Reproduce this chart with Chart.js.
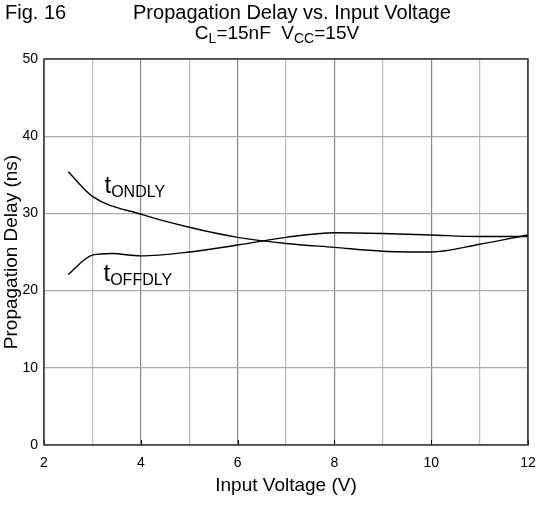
<!DOCTYPE html>
<html>
<head>
<meta charset="utf-8">
<script src="https://cdn.jsdelivr.net/npm/chart.js@4.4.0/dist/chart.umd.min.js"></script>
<style>
  html, body { margin: 0; padding: 0; background: #fff; }
  #wrap { width: 552px; height: 506px; position: relative; }
</style>
</head>
<body>
<div id="wrap"><canvas id="delayChart"></canvas></div>
<script>
const FONT = "'Liberation Sans', Arial, sans-serif";

// input voltage (V) / propagation delay (ns)
const onVoltage = [2.5, 3, 4, 5, 6, 7, 8, 9, 10, 11, 12];
const onDelay = [35.4, 32.2, 29.9, 28.2, 26.9, 26.1, 25.6, 25.1, 25.0, 26.0, 27.2];
const offVoltage = [2.5, 3, 3.4, 4, 5, 6, 7, 8, 9, 10, 11, 12];
const offDelay = [22.1, 24.6, 24.8, 24.5, 25.0, 25.9, 26.9, 27.5, 27.4, 27.2, 27.0, 27.0];

const xTicks = [2, 4, 6, 8, 10, 12];
const yTicks = [0, 10, 20, 30, 40, 50];

function toPoints(xs, ys) {
  return xs.map((x, i) => ({ x: x, y: ys[i] }));
}

// text with subscripts, parts = [[text, isSub], ...]
function subText(ctx, parts, x, y, size, subSize, drop, center) {
  let total = 0;
  parts.forEach(([t, sub]) => {
    ctx.font = `${sub ? subSize : size}px ${FONT}`;
    total += ctx.measureText(t).width;
  });
  if (center) x -= total / 2;
  parts.forEach(([t, sub]) => {
    ctx.font = `${sub ? subSize : size}px ${FONT}`;
    ctx.fillText(t, x, sub ? y + drop : y);
    x += ctx.measureText(t).width;
  });
}

const decorPlugin = {
  id: "decor",
  afterDraw(chart) {
    const { ctx, chartArea, scales } = chart;
    ctx.save();
    // short tick marks inside the frame
    ctx.strokeStyle = "#000";
    ctx.lineWidth = 1;
    xTicks.forEach((v) => {
      const px = Math.round(scales.x.getPixelForValue(v)) + 0.5;
      ctx.beginPath();
      ctx.moveTo(px, chartArea.bottom);
      ctx.lineTo(px, chartArea.bottom - 5);
      ctx.stroke();
    });
    ctx.strokeStyle = "#333";
    ctx.lineWidth = 1.5;
    ctx.strokeRect(chartArea.left, chartArea.top, chartArea.right - chartArea.left, chartArea.bottom - chartArea.top);

    ctx.fillStyle = "#000";
    ctx.textBaseline = "alphabetic";
    ctx.textAlign = "left";
    ctx.font = `20px ${FONT}`;
    ctx.fillText("Fig. 16", 5, 19);
    ctx.textAlign = "center";
    ctx.fillText("Propagation Delay vs. Input Voltage", 292, 19);
    ctx.textAlign = "left";
    subText(ctx, [["C", false], ["L", true], ["=15nF  V", false], ["CC", true], ["=15V", false]], 277, 39, 19, 14, 4, true);

    // curve labels
    const lx = scales.x.getPixelForValue(3.25);
    subText(ctx, [["t", false], ["ONDLY", true]], lx, scales.y.getPixelForValue(32.6), 24, 16, 4, false);
    subText(ctx, [["t", false], ["OFFDLY", true]], lx - 1, scales.y.getPixelForValue(21.2), 24, 16, 4, false);
    ctx.restore();
  }
};

new Chart(document.getElementById("delayChart"), {
  type: "line",
  data: {
    datasets: [
      {
        label: "tONDLY",
        data: toPoints(onVoltage, onDelay),
        borderColor: "#000",
        borderWidth: 1.4,
        pointRadius: 0,
        cubicInterpolationMode: "monotone",
        fill: false
      },
      {
        label: "tOFFDLY",
        data: toPoints(offVoltage, offDelay),
        borderColor: "#000",
        borderWidth: 1.4,
        pointRadius: 0,
        cubicInterpolationMode: "monotone",
        fill: false
      }
    ]
  },
  options: {
    responsive: true,
    maintainAspectRatio: false,
    animation: false,
    layout: { padding: { top: 59, right: 24, left: 0, bottom: 0 } },
    plugins: {
      legend: { display: false },
      tooltip: { enabled: false }
    },
    scales: {
      x: {
        type: "linear",
        min: 2,
        max: 12,
        afterFit: (s) => { s.height = 61; },
        ticks: {
          stepSize: 1,
          autoSkip: false,
          maxRotation: 0,
          color: "#000",
          font: { family: FONT, size: 14 },
          padding: 10,
          callback: (v) => (xTicks.includes(v) ? String(v) : "")
        },
        grid: {
          color: (c) => (c.tick && c.tick.value % 2 === 0 ? "#888" : "#bbb"),
          lineWidth: 1.2,
          drawTicks: false
        },
        border: { display: false },
        title: {
          display: true,
          text: "Input Voltage (V)",
          color: "#000",
          font: { family: FONT, size: 19 },
          padding: { top: 0, bottom: 9 }
        }
      },
      y: {
        min: 0,
        max: 50,
        afterFit: (s) => { s.width = 44; },
        ticks: {
          stepSize: 10,
          color: "#000",
          font: { family: FONT, size: 14 },
          padding: 6,
          callback: (v) => (yTicks.includes(v) ? String(v) : "")
        },
        grid: { color: "#aaa", lineWidth: 1.2, drawTicks: false },
        border: { display: false },
        title: {
          display: true,
          text: "Propagation Delay (ns)",
          color: "#000",
          font: { family: FONT, size: 19 },
          padding: { top: 0, bottom: 0 }
        }
      }
    }
  },
  plugins: [decorPlugin]
});
</script>
</body>
</html>
